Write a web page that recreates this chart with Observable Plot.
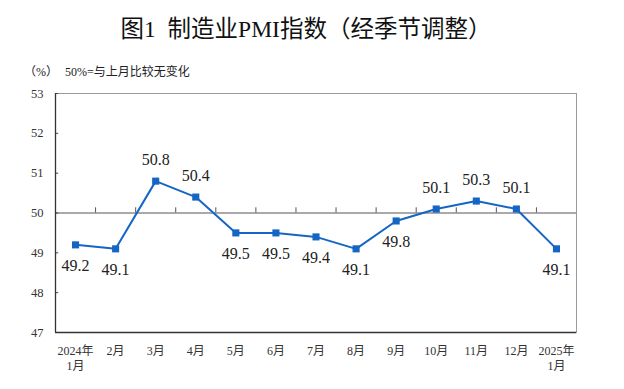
<!DOCTYPE html>
<html>
<head>
<meta charset="utf-8">
<script src="https://cdn.jsdelivr.net/npm/d3@7"></script>
<script src="https://cdn.jsdelivr.net/npm/@observablehq/plot@0.6"></script>
<style>
  html, body { margin: 0; padding: 0; background: #fff; }
  #wrap { width: 624px; position: relative; }
  #title { height: 58px; line-height: 58px; text-align: center; font-family: "Liberation Serif", "Noto Sans CJK SC", sans-serif; font-size: 23.5px; font-weight: 400; color: #111; padding-right: 12px; box-sizing: border-box; white-space: pre; }
  #sub { height: 28px; line-height: 28px; position: relative; font-family: "Liberation Serif", "Noto Sans CJK SC", sans-serif; font-size: 12px; color: #222; }
  #sub span { position: absolute; top: 0; }
  svg { display: block; overflow: visible; }
</style>
</head>
<body>
<div id="wrap">
  <div id="title"></div>
  <div id="sub"><span id="unit" style="left:24px"></span><span id="note" style="left:65px"></span></div>
  <div id="chart"></div>
</div>
<script>
const titleText = "图1  制造业PMI指数（经季节调整）";
const unitText = "（%）";
const noteText = "50%=与上月比较无变化";
const months = ["2024年\n1月", "2月", "3月", "4月", "5月", "6月", "7月", "8月", "9月", "10月", "11月", "12月", "2025年\n1月"];
const pmi = [49.2, 49.1, 50.8, 50.4, 49.5, 49.5, 49.4, 49.1, 49.8, 50.1, 50.3, 50.1, 49.1];
const yTicks = [47, 48, 49, 50, 51, 52, 53];
const threshold = 50;

document.getElementById("title").textContent = titleText;
document.getElementById("unit").textContent = unitText;
document.getElementById("note").textContent = noteText;

const data = months.map((m, i) => ({x: i + 0.5, label: m, v: pmi[i]}));
const bandEdges = d3.range(1, months.length);
const blue = "#1565c4";
const serif = "Liberation Serif, Noto Sans CJK SC, serif";

const chart = Plot.plot({
  width: 624,
  height: 303,
  marginTop: 7,
  marginBottom: 57,
  marginLeft: 55,
  marginRight: 48,
  style: {fontFamily: serif, background: "#fff"},
  x: {domain: [0, months.length]},
  y: {domain: [yTicks[0], yTicks[yTicks.length - 1]]},
  marks: [
    Plot.frame({stroke: "#9a9a9a"}),
    Plot.ruleY([threshold], {stroke: "#555", strokeWidth: 1}),
    Plot.ruleX(bandEdges, {y1: threshold, y2: threshold + 0.13, stroke: "#555"}),
    Plot.ruleY(yTicks, {x1: 0, x2: 0.08, stroke: "#444"}),
    Plot.ruleX([0], {stroke: "#333", strokeWidth: 1.3}),
    Plot.ruleY([yTicks[0]], {stroke: "#333", strokeWidth: 1.5}),
    Plot.axisY({ticks: yTicks, tickSize: 0, tickPadding: 12, fontSize: 12.5, fontFamily: serif, fill: "#333", label: null, tickFormat: d3.format("d")}),
    Plot.axisX(data.map(d => d.x), {tickSize: 0, tickPadding: 13, fontSize: 12, fontFamily: serif, fill: "#333", lineHeight: 1.17, label: null,
      tickFormat: (d) => data.find(e => e.x === d).label}),
    Plot.line(data, {x: "x", y: "v", stroke: blue, strokeWidth: 2}),
    Plot.dot(data, {x: "x", y: "v", symbol: "square", r: 4, fill: blue, stroke: null}),
    Plot.text(data.filter(d => d.v >= threshold), {x: "x", y: "v", text: d => d.v.toFixed(1), dy: -21, fontSize: 16, fontFamily: serif, fill: "#222"}),
    Plot.text(data.filter(d => d.v < threshold), {x: "x", y: "v", text: d => d.v.toFixed(1), dy: 21, fontSize: 16, fontFamily: serif, fill: "#222"})
  ]
});
document.getElementById("chart").appendChild(chart);
</script>
</body>
</html>
